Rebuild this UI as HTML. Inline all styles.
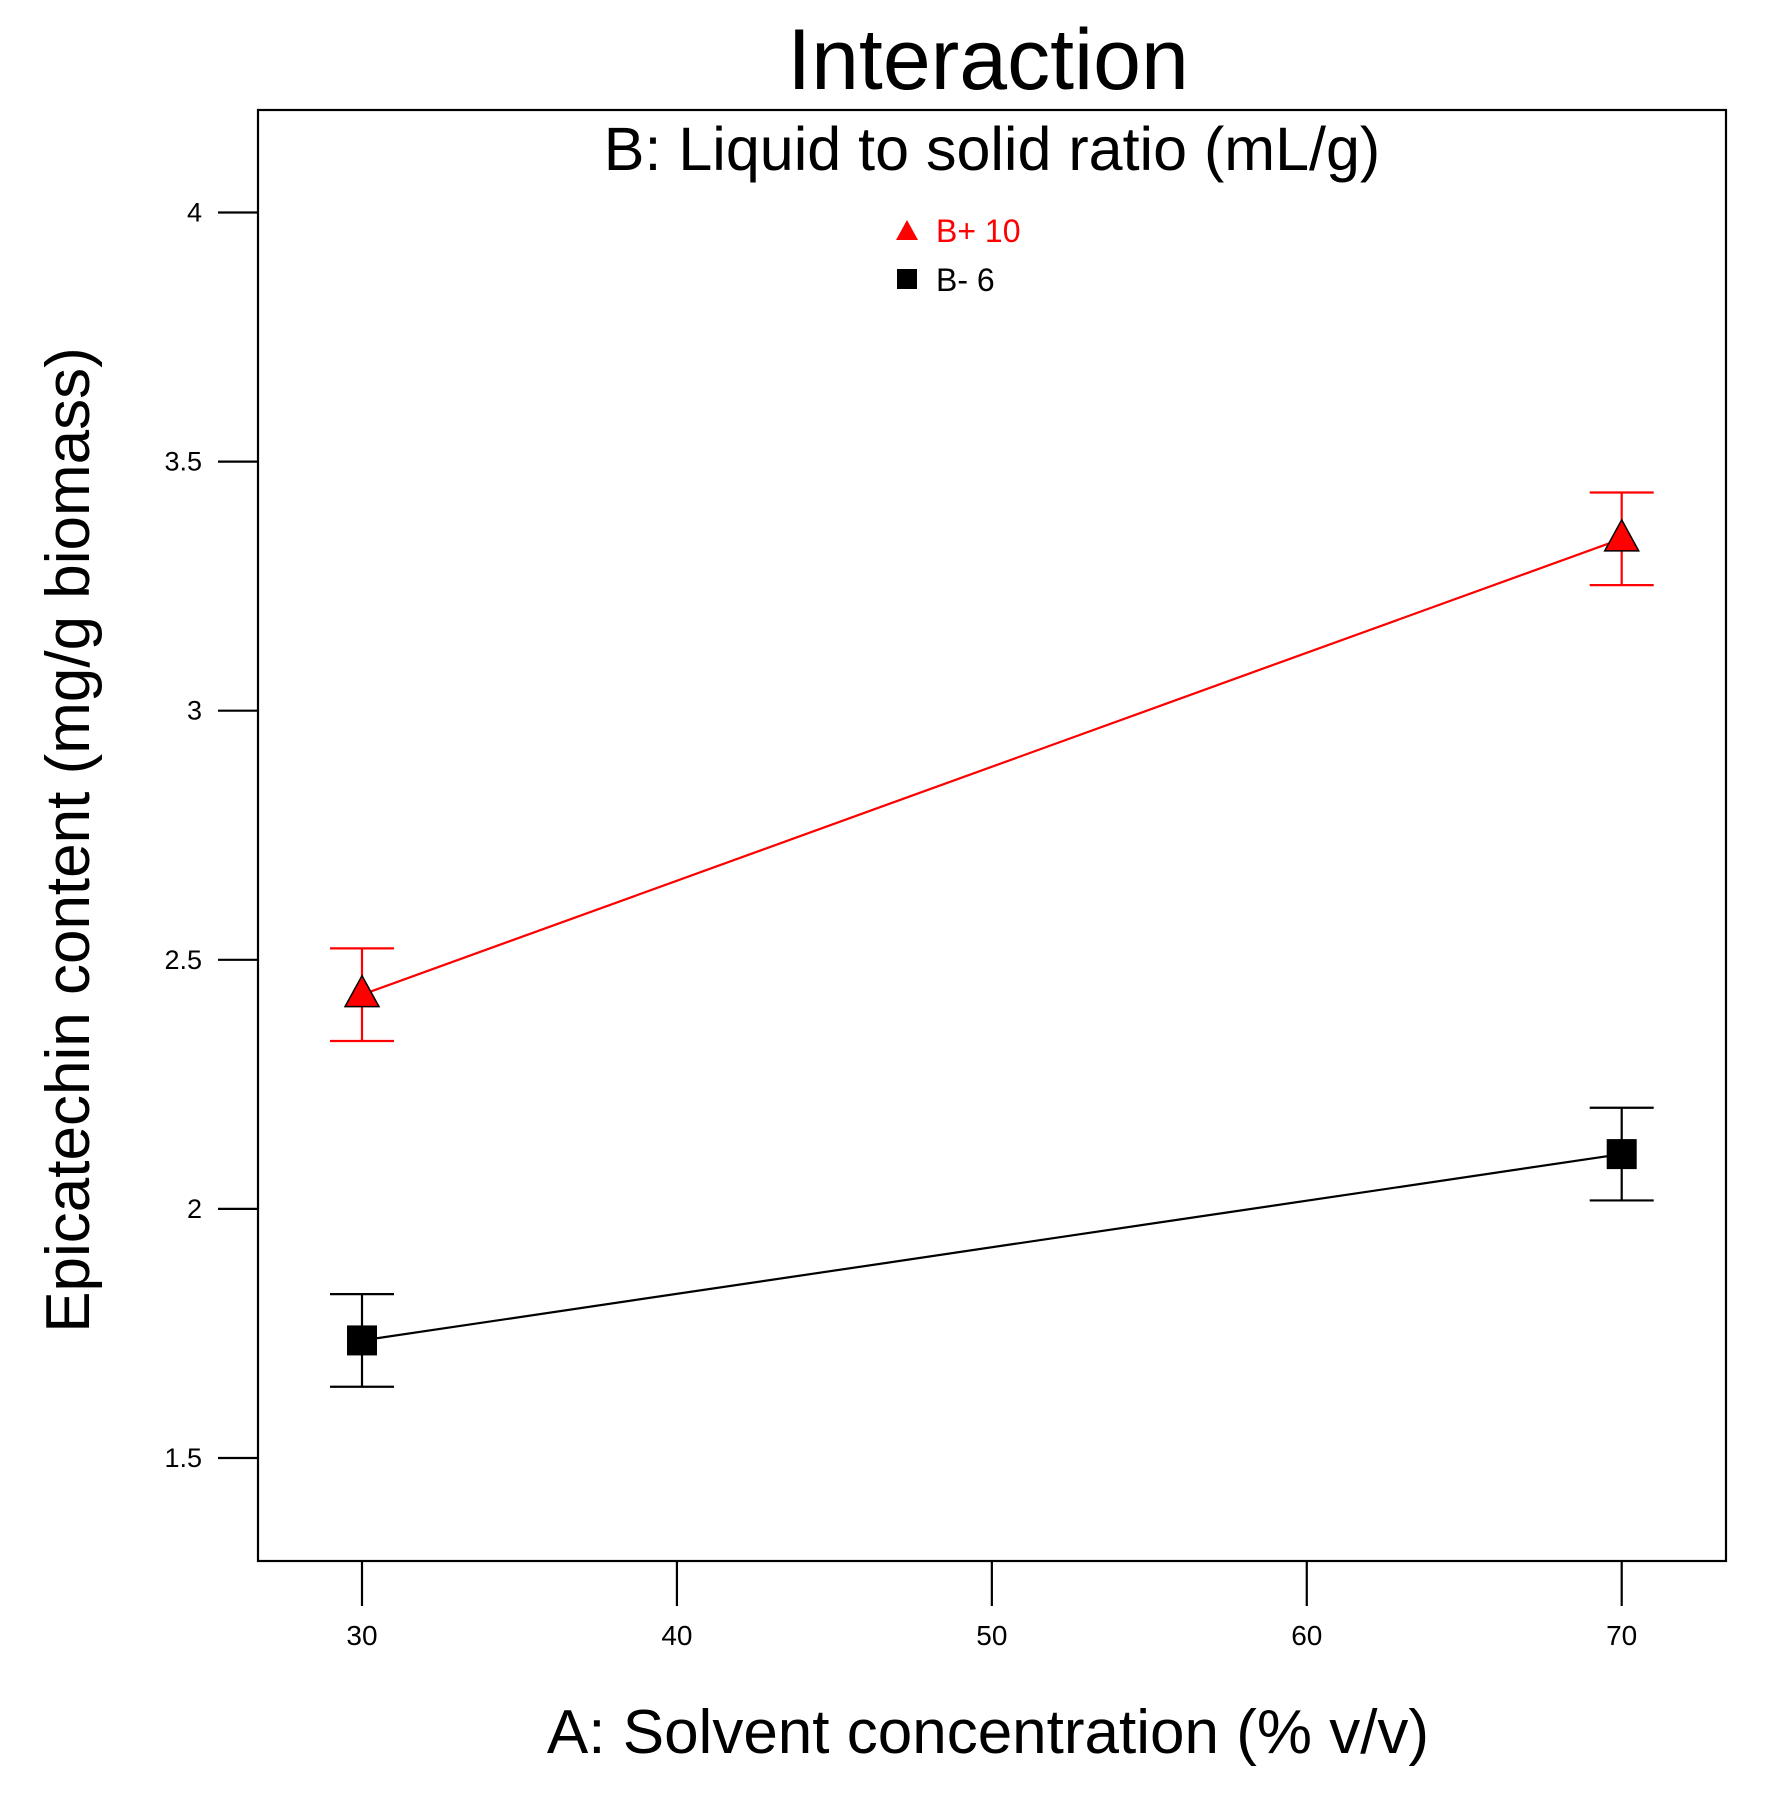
<!DOCTYPE html>
<html><head><meta charset="utf-8"><style>
html,body{margin:0;padding:0;background:#fff;}
svg{display:block;font-family:"Liberation Sans",Arial,sans-serif;}
</style></head><body>
<svg id="chart" width="1785" height="1811" viewBox="0 0 1785 1811">
<text x="988" y="89" font-size="86" text-anchor="middle">Interaction</text>
<rect x="258" y="110" width="1468" height="1451" fill="none" stroke="#000" stroke-width="2.2"/>
<text x="992" y="170" font-size="61" text-anchor="middle">B: Liquid to solid ratio (mL/g)</text>
<g id="axes"></g>
<g id="series"></g>
<g>
<polygon points="907,220 896,240 918,240" fill="#f00"/>
<text x="936" y="242" font-size="32" fill="#f00">B+ 10</text>
<rect x="897" y="269" width="20" height="20" fill="#000"/>
<text x="936" y="291" font-size="32" fill="#000">B- 6</text>
</g>
<text x="988" y="1753" font-size="62" text-anchor="middle">A: Solvent concentration (% v/v)</text>
<text transform="translate(89,840) rotate(-90)" font-size="62" text-anchor="middle">Epicatechin content (mg/g biomass)</text>
</svg>
<script>
const xCategories = [30, 70];
const seriesHigh = [2.43, 3.345];
const seriesLow = [1.736, 2.11];
const errorHalf = [0.093, 0.093];
const xTicks = [30, 40, 50, 60, 70];
const yTicks = [1.5, 2, 2.5, 3, 3.5, 4];
const yTickLabels = ["1.5", "2", "2.5", "3", "3.5", "4"];

const NS = "http://www.w3.org/2000/svg";
function X(v){ return 362 + (v - 30) * (1621.7 - 362) / 40; }
function Y(v){ return 1458 - (v - 1.5) * 249.1 / 0.5; }
function mk(tag, attrs, parent){ const e = document.createElementNS(NS, tag); for (const k in attrs) e.setAttribute(k, attrs[k]); parent.appendChild(e); return e; }

const axes = document.getElementById('axes');
xTicks.forEach(t => {
  const l = mk('line', {x1:X(t), x2:X(t), y1:1561, y2:1606, stroke:'#000', 'stroke-width':2.2}, axes);
  
  
  const tx = mk('text', {x:X(t), y:1645, 'font-size':28, 'text-anchor':'middle'}, axes);
  tx.textContent = t;
  
  
});
yTicks.forEach((t, i) => {
  const l = mk('line', {x1:218, x2:258, y1:Y(t), y2:Y(t), stroke:'#000', 'stroke-width':2.2}, axes);
  
  
  const tx = mk('text', {x:202, y:Y(t) + 9, 'font-size':27, 'text-anchor':'end'}, axes);
  tx.textContent = yTickLabels[i];
  
  
});

const sg = document.getElementById('series');
function drawSeries(vals, color, kind){
  const ln = mk('line', {x1:X(xCategories[0]), y1:Y(vals[0]), x2:X(xCategories[1]), y2:Y(vals[1]), stroke:color, 'stroke-width':2.2}, sg);
  
  
  vals.forEach((v, i) => {
    const x = X(xCategories[i]), hi = Y(v + errorHalf[i]), lo = Y(v - errorHalf[i]);
    const g = mk('g', {}, sg);
    
    
    mk('line', {x1:x, x2:x, y1:hi, y2:lo, stroke:color, 'stroke-width':2.2}, g);
    mk('line', {x1:x-32, x2:x+32, y1:hi, y2:hi, stroke:color, 'stroke-width':2.2}, g);
    mk('line', {x1:x-32, x2:x+32, y1:lo, y2:lo, stroke:color, 'stroke-width':2.2}, g);
    const y = Y(v);
    let m;
    if (kind === 'b-plus') {
      m = mk('polygon', {points:`${x},${y-19} ${x-17},${y+12} ${x+17},${y+12}`, fill:'#f00', stroke:'#000', 'stroke-width':1.5}, sg);
    } else {
      m = mk('rect', {x:x-15, y:y-15, width:30, height:30, fill:'#000'}, sg);
    }
    
    
  });
}
drawSeries(seriesHigh, '#f00', 'b-plus');
drawSeries(seriesLow, '#000', 'b-minus');
</script>
</body></html>
